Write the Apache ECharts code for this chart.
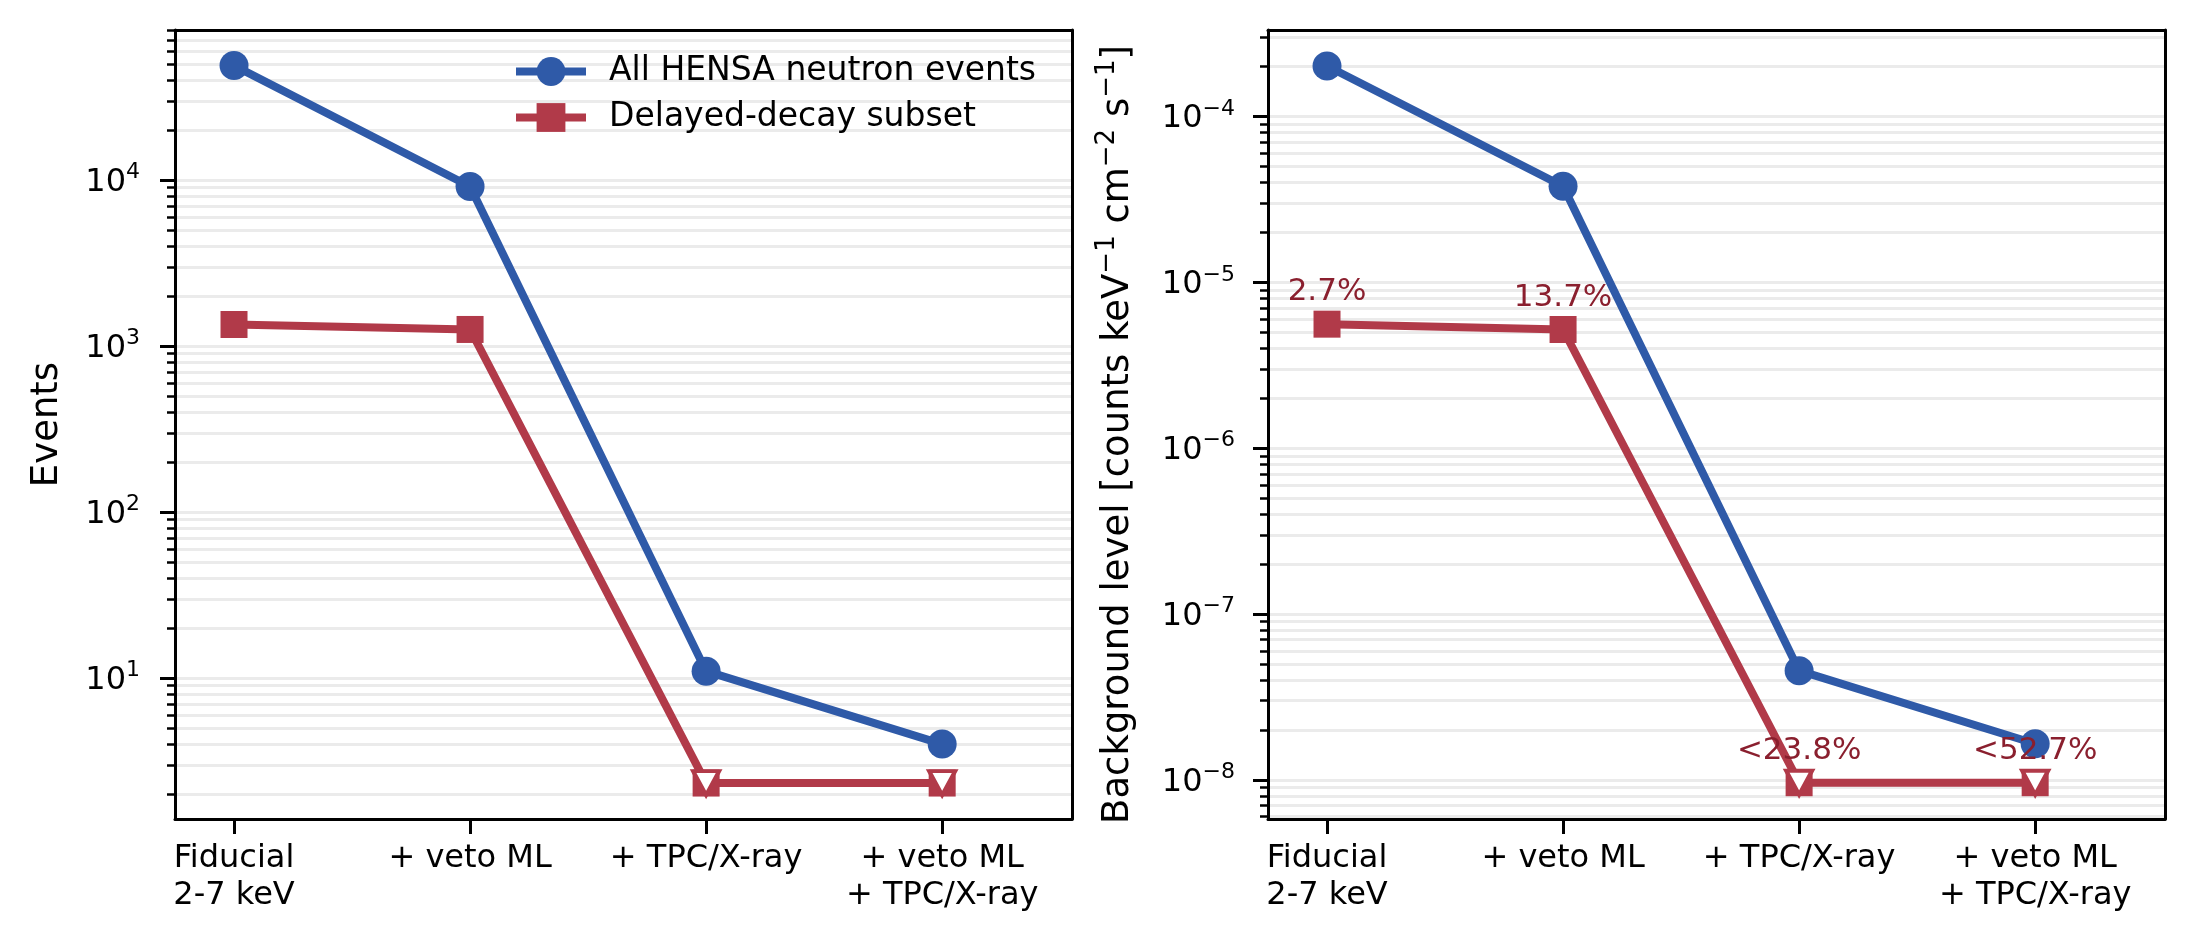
<!DOCTYPE html>
<html>
<head>
<meta charset="utf-8">
<script src="https://cdn.jsdelivr.net/npm/echarts@6/dist/echarts.min.js"></script>
<style>
  html, body { margin: 0; padding: 0; background: #fff; }
  #main { width: 2195px; height: 949px; }
</style>
</head>
<body>
<div id="main"></div>
<script>
// categories along x
var steps = ['Fiducial\n2-7 keV', '+ veto ML', '+ TPC/X-ray', '+ veto ML\n+ TPC/X-ray'];
var stepPos = [0, 1, 2, 3];

// left panel: event counts
var eventsAll = [49000, 9150, 11, 4.0];
var eventsDelayed = [1350, 1260, 2.33, 2.33];

// right panel: background level [counts keV-1 cm-2 s-1]
var bkgAll = [2.02e-4, 3.8e-5, 4.55e-8, 1.65e-8];
var bkgDelayed = [5.6e-6, 5.2e-6, 9.6e-9, 9.6e-9];

// delayed fraction notes and which points are upper limits
var fractionNotes = ['2.7%', '13.7%', '<23.8%', '<52.7%'];
var isUpperLimit = [false, false, true, true];

// axis tick labels (decades)
var leftDecades = [10, 100, 1000, 10000];
var rightDecades = [1e-8, 1e-7, 1e-6, 1e-5, 1e-4];

var blue = '#2f5aa8';
var red = '#b13a49';
var noteRed = '#8a1f2e';
var font = 'DejaVu Sans';

function decadeTicks(lo, hi) {
    var out = [];
    for (var e = Math.floor(Math.log10(lo)); e <= Math.ceil(Math.log10(hi)); e++) {
        for (var m = 1; m <= 9; m++) {
            var v = parseFloat((m * Math.pow(10, e)).toPrecision(6));
            if (v >= lo && v <= hi) out.push(v);
        }
    }
    return out;
}

function powLabel(v) {
    var e = Math.round(Math.log10(v));
    return '{b|10}{s|' + String(e).replace('-', '\u2212') + '}';
}

function pairs(vals) {
    return vals.map(function (v, i) { return [stepPos[i], v]; });
}
function limitPairs(vals) {
    var out = [];
    vals.forEach(function (v, i) { if (isUpperLimit[i]) out.push([stepPos[i], v]); });
    return out;
}

var supRich = {
    b: { fontSize: 32, fontFamily: font, color: '#000', verticalAlign: 'bottom', lineHeight: 37 },
    s: { fontSize: 22, fontFamily: font, color: '#000', verticalAlign: 'top', lineHeight: 23 }
};
var frameLine = { show: true, onZero: false, lineStyle: { color: '#000', width: 3 } };

var myChart = echarts.init(document.getElementById('main'), null, { renderer: 'canvas' });

var ranges = [[1.415, 80300], [5.8e-9, 3.33e-4]];
var lefts = [175, 1268];

var grids = [], xAxes = [], yAxes = [];
for (var g = 0; g < 2; g++) {
    grids.push({ left: lefts[g], top: 30, width: 897, height: 789 });
    xAxes.push({
        type: 'value', gridIndex: g, position: 'bottom', min: -0.25, max: 3.55,
        axisLine: frameLine,
        splitLine: { show: false },
        axisTick: { customValues: stepPos, length: 15, lineStyle: { color: '#000', width: 3 } },
        axisLabel: {
            customValues: stepPos,
            formatter: function (v) { return steps[Math.round(v)]; },
            margin: 21, fontSize: 32, lineHeight: 37, color: '#000', fontFamily: font, align: 'center'
        }
    });
    // top edge of the frame
    xAxes.push({
        type: 'value', gridIndex: g, position: 'top', min: 0, max: 1,
        axisLine: frameLine, axisTick: { show: false }, axisLabel: { show: false }, splitLine: { show: false }
    });
}
for (var g = 0; g < 2; g++) {
    // minor ticks + grid lines
    yAxes.push({
        type: 'log', logBase: 10, gridIndex: g, position: 'left',
        min: ranges[g][0], max: ranges[g][1],
        axisLine: { show: false, onZero: false },
        axisTick: { customValues: decadeTicks(ranges[g][0], ranges[g][1]), length: 8, lineStyle: { color: '#000', width: 2.5 } },
        axisLabel: { show: false },
        splitLine: { show: true, lineStyle: { color: '#ebebeb', width: 3 } }
    });
    // right edge of the frame
    yAxes.push({
        type: 'value', gridIndex: g, position: 'right', min: 0, max: 1,
        axisLine: frameLine, axisTick: { show: false }, axisLabel: { show: false }, splitLine: { show: false }
    });
}
// major ticks with labels
yAxes.push({
    type: 'log', logBase: 10, gridIndex: 0, position: 'left',
    min: ranges[0][0], max: ranges[0][1],
    name: 'Events', nameLocation: 'middle', nameGap: 109,
    nameTextStyle: { fontSize: 37, color: '#000', fontFamily: font },
    axisLine: frameLine,
    axisTick: { customValues: leftDecades, length: 15, lineStyle: { color: '#000', width: 3 } },
    axisLabel: { customValues: leftDecades, formatter: powLabel, margin: 35, color: '#000', rich: supRich },
    splitLine: { show: false }
});
yAxes.push({
    type: 'log', logBase: 10, gridIndex: 1, position: 'left',
    min: ranges[1][0], max: ranges[1][1],
    name: '{n|Background level [counts keV}{s|\u22121}{n| cm}{s|\u22122}{n| s}{s|\u22121}{n|]}',
    nameLocation: 'middle', nameGap: 131,
    nameTextStyle: {
        padding: [0, 20, 0, 0],
        rich: {
            n: { fontSize: 37, fontFamily: font, color: '#000', verticalAlign: 'bottom', lineHeight: 43 },
            s: { fontSize: 26, fontFamily: font, color: '#000', verticalAlign: 'top', lineHeight: 27 }
        }
    },
    axisLine: frameLine,
    axisTick: { customValues: rightDecades, length: 15, lineStyle: { color: '#000', width: 3 } },
    axisLabel: { customValues: rightDecades, formatter: powLabel, margin: 33, color: '#000', rich: supRich },
    splitLine: { show: false }
});

// axis indexes the data series are drawn on, per panel
var dataY = [0, 2];
var dataX = [0, 2];

function lineSeries(name, vals, g, color, symbol, size, withNotes) {
    return {
        type: 'line', name: name, xAxisIndex: dataX[g], yAxisIndex: dataY[g],
        data: pairs(vals),
        symbol: symbol, symbolSize: size, showAllSymbol: true,
        lineStyle: { color: color, width: 8 },
        itemStyle: { color: color },
        label: withNotes ? {
            show: true, position: 'inside', offset: [0, -32],
            formatter: function (p) { return fractionNotes[p.dataIndex]; },
            color: noteRed, fontSize: 31, fontFamily: font
        } : { show: false },
        emphasis: { disabled: true },
        z: 3
    };
}
function limitSeries(vals, g) {
    return {
        type: 'scatter', name: 'limit', xAxisIndex: dataX[g], yAxisIndex: dataY[g],
        data: limitPairs(vals),
        symbol: 'triangle', symbolRotate: 180, symbolSize: [26, 24],
        itemStyle: { color: '#fff', borderColor: red, borderWidth: 4, opacity: 1 },
        emphasis: { disabled: true },
        z: 4
    };
}

var optionMain = {
    backgroundColor: '#fff',
    animation: false,
    textStyle: { fontFamily: font },
    grid: grids,
    xAxis: xAxes,
    yAxis: yAxes,
    legend: {
        data: ['All HENSA neutron events', 'Delayed-decay subset'],
        orient: 'vertical', left: 512, top: 55, padding: 0,
        itemWidth: 70, itemHeight: 36, itemGap: 13,
        lineStyle: { width: 8 },
        textStyle: { fontSize: 33, color: '#000', fontFamily: font, padding: [0, 0, 0, 18] }
    },
    series: [
        lineSeries('All HENSA neutron events', eventsAll, 0, blue, 'circle', 29, false),
        lineSeries('Delayed-decay subset', eventsDelayed, 0, red, 'rect', 27, false),
        limitSeries(eventsDelayed, 0),
        lineSeries('All HENSA neutron events', bkgAll, 1, blue, 'circle', 29, false),
        lineSeries('Delayed-decay subset', bkgDelayed, 1, red, 'rect', 27, true),
        limitSeries(bkgDelayed, 1)
    ]
};
myChart.setOption(optionMain);
</script>
</body>
</html>
